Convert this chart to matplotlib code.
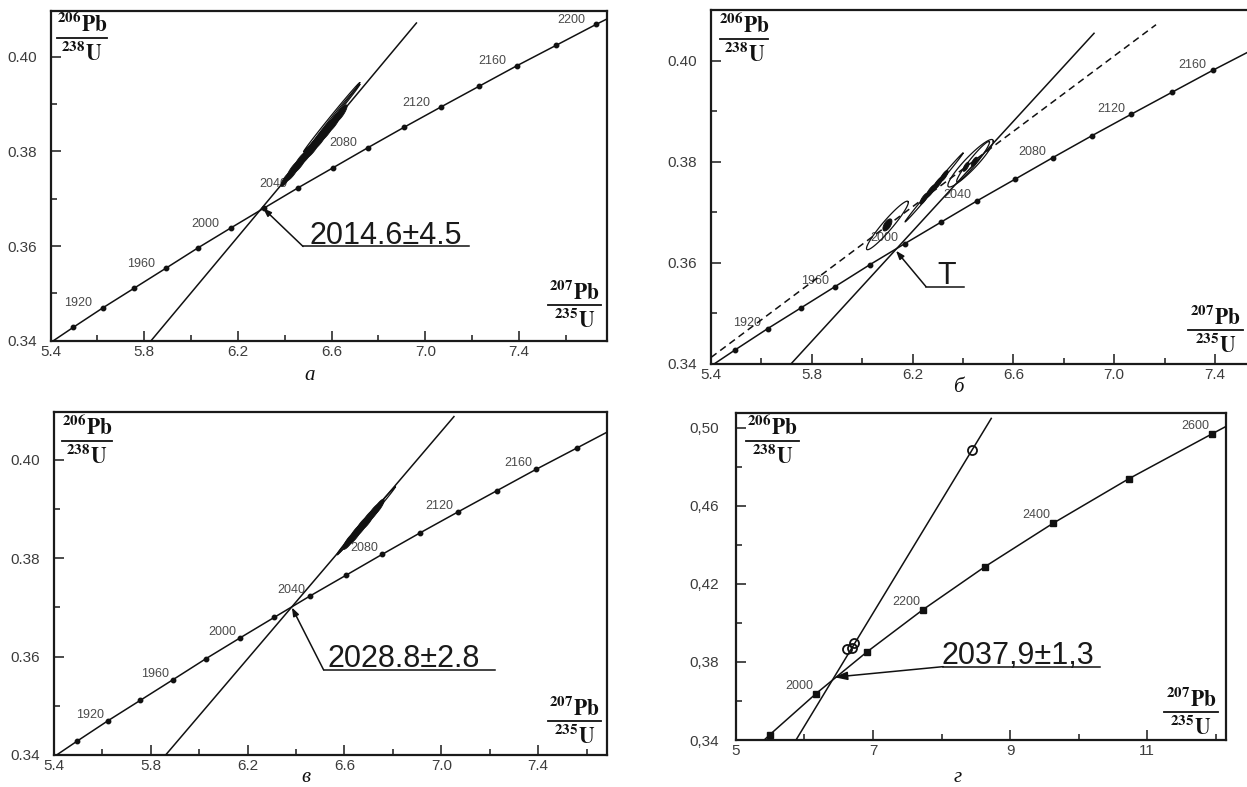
import numpy as np
import matplotlib
matplotlib.use("Agg")
import matplotlib.pyplot as plt
from matplotlib import font_manager
from matplotlib.ticker import FixedLocator, MultipleLocator, FuncFormatter

plt.rcParams["mathtext.fontset"] = "stix"

# ---------------------------------------------------------------------------
# Concordia reference points, 20 Ma step (207Pb/235U, 206Pb/238U)
conc_age = [1880, 1900, 1920, 1940, 1960, 1980, 2000, 2020, 2040, 2060,
            2080, 2100, 2120, 2140, 2160, 2180, 2200, 2220]
conc_x = [5.370, 5.496, 5.625, 5.757, 5.892, 6.029, 6.169, 6.311, 6.457,
          6.605, 6.756, 6.910, 7.068, 7.228, 7.392, 7.559, 7.729, 7.903]
conc_y = [0.3386, 0.3428, 0.3470, 0.3511, 0.3553, 0.3596, 0.3638, 0.3680,
          0.3723, 0.3765, 0.3808, 0.3851, 0.3894, 0.3937, 0.3981, 0.4024,
          0.4068, 0.4111]
conc_marked = [1900, 1920, 1940, 1960, 1980, 2000, 2020, 2040, 2060, 2080,
               2100, 2120, 2140, 2160, 2180, 2200]
conc_labels = [1920, 1960, 2000, 2040, 2080, 2120, 2160, 2200]

# Concordia reference points, 100 Ma step
conc100_age = [1880, 1900, 2000, 2100, 2200, 2300, 2400, 2500, 2600, 2620]
conc100_x = [5.370, 5.496, 6.169, 6.910, 7.729, 8.633, 9.630, 10.730,
             11.944, 12.196]
conc100_y = [0.3386, 0.3428, 0.3638, 0.3851, 0.4068, 0.4288, 0.4511,
             0.4738, 0.4968, 0.5015]
conc100_marked = [1900, 2000, 2100, 2200, 2300, 2400, 2500, 2600]
conc100_labels = [2000, 2200, 2400, 2600]

# Discordia lines: (x0, y0, x1, y1)
disc_a = (5.829, 0.3400, 6.962, 0.4071)
disc_b = (5.717, 0.3400, 6.920, 0.4054)
disc_b_dashed = (5.400, 0.3413, 7.166, 0.4071)
disc_v = (5.862, 0.3400, 7.052, 0.4088)
disc_g = (5.876, 0.3400, 8.726, 0.5048)

# Upper intercepts
icpt_a = (6.307, 0.3680)
icpt_b = (6.134, 0.3624)
icpt_v = (6.383, 0.3700)
icpt_g = (6.430, 0.3722)

# Analyses as error ellipses: centre x, centre y, sigma x, sigma y, rho, filled
ell_a = [
    (6.405, 0.3741, 0.022, 0.0015, 0.85, True),
    (6.435, 0.3759, 0.030, 0.0021, 0.85, True),
    (6.465, 0.3777, 0.032, 0.0022, 0.85, True),
    (6.495, 0.3795, 0.030, 0.0021, 0.85, True),
    (6.520, 0.3809, 0.034, 0.0023, 0.85, True),
    (6.550, 0.3827, 0.034, 0.0023, 0.85, True),
    (6.580, 0.3845, 0.034, 0.0023, 0.85, True),
    (6.610, 0.3862, 0.030, 0.0021, 0.85, True),
    (6.640, 0.3880, 0.026, 0.0018, 0.85, True),
    (6.600, 0.3872, 0.120, 0.0073, 0.998, False),
    (6.620, 0.3880, 0.100, 0.0061, 0.998, False),
]
ell_b = [
    (6.100, 0.3674, 0.083, 0.0048, 0.95, False),
    (6.100, 0.3675, 0.018, 0.0012, 0.60, True),
    (6.285, 0.3749, 0.115, 0.0068, 0.998, False),
    (6.245, 0.3727, 0.016, 0.0011, 0.80, True),
    (6.272, 0.3742, 0.020, 0.0013, 0.85, True),
    (6.300, 0.3757, 0.020, 0.0013, 0.85, True),
    (6.325, 0.3772, 0.016, 0.0011, 0.80, True),
    (6.430, 0.3797, 0.090, 0.0047, 0.93, False),
    (6.440, 0.3800, 0.065, 0.0040, 0.96, False),
    (6.412, 0.3790, 0.012, 0.0009, 0.70, True),
    (6.445, 0.3800, 0.012, 0.0009, 0.70, True),
]
ell_v = [
    (6.620, 0.3835, 0.026, 0.0017, 0.85, True),
    (6.645, 0.3849, 0.030, 0.0020, 0.85, True),
    (6.670, 0.3864, 0.030, 0.0020, 0.85, True),
    (6.695, 0.3878, 0.030, 0.0020, 0.85, True),
    (6.720, 0.3893, 0.028, 0.0018, 0.85, True),
    (6.740, 0.3904, 0.024, 0.0016, 0.85, True),
    (6.690, 0.3876, 0.120, 0.0069, 0.998, False),
    (6.660, 0.3860, 0.090, 0.0052, 0.995, False),
]
# Open-circle analyses
pts_g_x = [6.620, 6.690, 6.720, 8.450]
pts_g_y = [0.3865, 0.3870, 0.3896, 0.4886]

# Age callouts
age_a = "2014.6±4.5"
age_b = "T"
age_v = "2028.8±2.8"
age_g = "2037,9±1,3"

# ---------------------------------------------------------------------------
names = {f.name for f in font_manager.fontManager.ttflist}
NARROW = "Liberation Sans Narrow" in names
AGE_FONT = dict(family="Liberation Sans Narrow" if NARROW else "Liberation Sans",
                size=24 if NARROW else 22, color="#1a1a1a")
TICK_FONT = dict(family="Liberation Sans", size=11, color="#3c3c3c")
CONC_FONT = dict(family="Liberation Sans", size=9, color="#4a4a4a")
RATIO_SIZE = 15.5
INK = "#111111"

fig = plt.figure(figsize=(12.47, 7.87), dpi=100)
fig.patch.set_facecolor("white")


def ellipse(cx, cy, sx, sy, rho, n=120):
    t = np.linspace(0, 2 * np.pi, n)
    x = cx + sx * np.cos(t)
    y = cy + sy * (rho * np.cos(t) + np.sqrt(1 - rho ** 2) * np.sin(t))
    return x, y


def ratio_label(ax, x0, x1, ybar, top, bottom):
    ax.plot([x0, x1], [ybar, ybar], transform=ax.transAxes, color=INK,
            lw=1.3, clip_on=False, zorder=6)
    xc = 0.5 * (x0 + x1)
    ax.annotate(top, (xc, ybar), xycoords="axes fraction",
                xytext=(0, 1.5), textcoords="offset points",
                ha="center", va="bottom", fontsize=RATIO_SIZE, color=INK,
                zorder=6)
    ax.annotate(bottom, (xc, ybar), xycoords="axes fraction",
                xytext=(0, -1.5), textcoords="offset points",
                ha="center", va="top", fontsize=RATIO_SIZE, color=INK,
                zorder=6)


def setup_axes(rect, xlim, ylim):
    ax = fig.add_axes(rect)
    ax.set_xlim(*xlim)
    ax.set_ylim(*ylim)
    for s in ax.spines.values():
        s.set_linewidth(1.6)
        s.set_color("#1a1a1a")
    ax.tick_params(which="both", direction="in", top=False, right=False,
                   width=1.1, color="#1a1a1a")
    ax.tick_params(which="major", length=7)
    ax.tick_params(which="minor", length=4)
    ax.tick_params(axis="x", which="major", pad=3)
    ax.tick_params(axis="y", which="major", pad=10)
    return ax


def style_ticklabels(ax):
    for lab in ax.get_xticklabels() + ax.get_yticklabels():
        lab.set_fontfamily(TICK_FONT["family"])
        lab.set_fontsize(TICK_FONT["size"])
        lab.set_color(TICK_FONT["color"])


def draw_concordia(ax, ages, xs, ys, marked, labels, marker, ms, off):
    ax.plot(xs, ys, color=INK, lw=1.1, zorder=3)
    mx = [x for a, x in zip(ages, xs) if a in marked]
    my = [y for a, y in zip(ages, ys) if a in marked]
    ax.plot(mx, my, ls="none", marker=marker, ms=ms, color=INK, zorder=4)
    for a, x, y in zip(ages, xs, ys):
        if a in labels:
            ax.annotate(str(a), (x, y), xytext=off, textcoords="offset points",
                        ha="right", va="center", zorder=1, annotation_clip=True,
                        **CONC_FONT)


def draw_line(ax, seg, **kw):
    x0, y0, x1, y1 = seg
    ax.plot([x0, x1], [y0, y1], color=INK, lw=1.1, zorder=3, **kw)


def draw_ellipses(ax, ells):
    for cx, cy, sx, sy, rho, filled in ells:
        x, y = ellipse(cx, cy, sx, sy, rho)
        if filled:
            ax.fill(x, y, color=INK, lw=0.6, zorder=5)
        else:
            ax.plot(x, y, color=INK, lw=0.9, zorder=5)


def callout(ax, icpt, start, end, text, head=(0.5, 0.18), dy=2.0,
            text_x=None, ha="left"):
    ax.plot([start[0], end[0]], [start[1], start[1]], color=INK, lw=1.1,
            zorder=3)
    ax.annotate("", xy=icpt, xytext=start,
                arrowprops=dict(arrowstyle="-|>,head_length=%g,head_width=%g"
                                % head, lw=1.1, color=INK,
                                shrinkA=0, shrinkB=0), zorder=6)
    tx = start[0] if text_x is None else text_x
    ax.annotate(text, (tx, start[1]), xytext=(0, dy),
                textcoords="offset points", ha=ha, va="baseline",
                zorder=6, **AGE_FONT)


def std_ticks(ax, xmax):
    ax.xaxis.set_major_locator(FixedLocator(np.arange(5.4, xmax + 0.01, 0.4)))
    ax.xaxis.set_minor_locator(MultipleLocator(0.2))
    ax.yaxis.set_major_locator(MultipleLocator(0.02))
    ax.yaxis.set_minor_locator(MultipleLocator(0.01))
    ax.xaxis.set_major_formatter(FuncFormatter(lambda v, p: f"{v:.1f}"))
    ax.yaxis.set_major_formatter(FuncFormatter(lambda v, p: f"{v:.2f}"))


TOP = r"$\mathbf{{}^{206}Pb}$"
BOT = r"$\mathbf{{}^{238}U}$"
TOPX = r"$\mathbf{{}^{207}Pb}$"
BOTX = r"$\mathbf{{}^{235}U}$"

# --- а ---------------------------------------------------------------------
ax = setup_axes([0.0406, 0.5671, 0.4462, 0.4193], (5.4, 7.776), (0.34, 0.4097))
std_ticks(ax, 7.776)
draw_concordia(ax, conc_age, conc_x, conc_y, conc_marked, conc_labels,
               "o", 3.2, (-8, 3))
draw_line(ax, disc_a)
draw_ellipses(ax, ell_a)
callout(ax, icpt_a, (6.478, 0.3599), (7.185, 0.3599), age_a, text_x=6.505)
ratio_label(ax, 0.0115, 0.101, 0.917, TOP, BOT)
ratio_label(ax, 0.894, 0.989, 0.108, TOPX, BOTX)
style_ticklabels(ax)

# --- б ---------------------------------------------------------------------
ax = setup_axes([0.5702, 0.5375, 0.4320, 0.4504], (5.4, 7.538), (0.34, 0.4101))
std_ticks(ax, 7.538)
draw_concordia(ax, conc_age, conc_x, conc_y, conc_marked, conc_labels,
               "o", 3.2, (-4.5, 4))
draw_line(ax, disc_b)
draw_line(ax, disc_b_dashed, ls=(0, (4.5, 3)))
draw_ellipses(ax, ell_b)
callout(ax, icpt_b, (6.253, 0.3553), (6.404, 0.3553), age_b,
        text_x=6.336, ha="center")
ratio_label(ax, 0.017, 0.106, 0.917, TOP, BOT)
ratio_label(ax, 0.885, 0.988, 0.096, TOPX, BOTX)
style_ticklabels(ax)

# --- в ---------------------------------------------------------------------
ax = setup_axes([0.0431, 0.0407, 0.4437, 0.4362], (5.4, 7.684), (0.34, 0.4098))
std_ticks(ax, 7.684)
draw_concordia(ax, conc_age, conc_x, conc_y, conc_marked, conc_labels,
               "o", 3.2, (-3, 4.3))
draw_line(ax, disc_v)
draw_ellipses(ax, ell_v)
callout(ax, icpt_v, (6.514, 0.3573), (7.223, 0.3573), age_v, text_x=6.528)
ratio_label(ax, 0.0144, 0.105, 0.9155, TOP, BOT)
ratio_label(ax, 0.893, 0.989, 0.100, TOPX, BOTX)
style_ticklabels(ax)

# --- г ---------------------------------------------------------------------
ax = setup_axes([0.5902, 0.0597, 0.3930, 0.4151], (5.0, 12.153), (0.34, 0.5074))
ax.xaxis.set_major_locator(FixedLocator([5, 7, 9, 11]))
ax.xaxis.set_minor_locator(MultipleLocator(1))
ax.yaxis.set_major_locator(FixedLocator([0.34, 0.38, 0.42, 0.46, 0.50]))
ax.yaxis.set_minor_locator(FixedLocator([0.36, 0.40, 0.44, 0.48]))
ax.xaxis.set_major_formatter(FuncFormatter(lambda v, p: f"{v:.0f}"))
ax.yaxis.set_major_formatter(
    FuncFormatter(lambda v, p: f"{v:.2f}".replace(".", ",")))
ax.tick_params(axis="y", which="major", pad=12)
draw_concordia(ax, conc100_age, conc100_x, conc100_y, conc100_marked,
               conc100_labels, "s", 5, (-2, 5.8))
draw_line(ax, disc_g)
ax.plot(pts_g_x, pts_g_y, ls="none", marker="o", ms=6.5, mfc="none",
        mec=INK, mew=1.3, zorder=5)
callout(ax, icpt_g, (8.025, 0.3776), (10.31, 0.3776), age_g,
        head=(0.8, 0.25), text_x=8.0)
ratio_label(ax, 0.020, 0.129, 0.916, TOP, BOT)
ratio_label(ax, 0.873, 0.984, 0.087, TOPX, BOTX)
style_ticklabels(ax)

# --- panel letters ---------------------------------------------------------
CAP = dict(family="Liberation Serif", style="italic", size=15, color=INK,
           ha="center", va="center")
fig.text(0.2483, 0.5235, "а", **CAP)
fig.text(0.7682, 0.5070, "б", **CAP)
fig.text(0.2454, 0.0120, "в", **CAP)
fig.text(0.7682, 0.0127, "г", **CAP)

fig.savefig("out.png", dpi=100, facecolor="white")
